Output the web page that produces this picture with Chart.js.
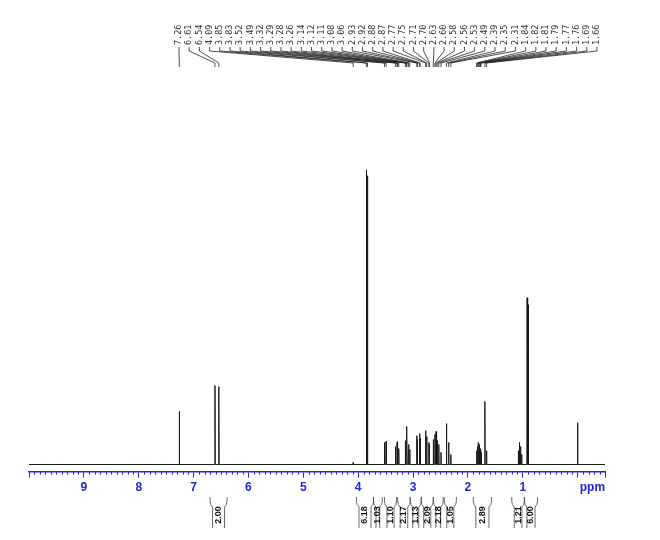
<!DOCTYPE html>
<html>
<head>
<meta charset="utf-8">
<script src="https://cdn.jsdelivr.net/npm/chart.js@4.4.1/dist/chart.umd.min.js"></script>
<style>
  html, body { margin: 0; padding: 0; background: #fff; }
</style>
</head>
<body>
<canvas id="nmr" width="660" height="540"></canvas>
<script>
// peak positions (ppm) and heights (relative, 3.85 singlet = 100)
const peakPpm = [7.26, 6.61, 6.54, 4.09, 3.85, 3.83, 3.52, 3.49, 3.32, 3.29, 3.28, 3.26,
  3.14, 3.12, 3.11, 3.08, 3.06, 2.93, 2.92, 2.88, 2.87, 2.77, 2.75, 2.71, 2.70,
  2.63, 2.60, 2.58, 2.56, 2.53, 2.49, 2.39, 2.35, 2.31,
  1.84, 1.82, 1.81, 1.79, 1.77, 1.76, 1.69, 1.66,
  1.08, 1.06, 1.04, 1.02, 0.92, 0.90, 0.00];
const peakHeight = [18.0, 26.8, 26.4, 0.7, 100, 98, 7.5, 7.8, 6.1, 7.5, 7.8, 5.4,
  8.1, 12.9, 10.2, 6.8, 5.1, 9.8, 8.5, 10.5, 8.8, 11.5, 9.5, 7.5, 6.8,
  8.5, 10.2, 11.2, 8.1, 6.8, 4.1, 13.9, 7.5, 3.4,
  4.7, 6.1, 7.5, 6.8, 5.4, 4.1, 21.4, 4.7,
  4.7, 7.5, 6.1, 3.4, 56.6, 54.2, 14.2];

// peak pick labels shown above the spectrum
const labelPpm = ['7.26', '6.61', '6.54', '4.09', '3.85', '3.83', '3.52', '3.49', '3.32', '3.29',
  '3.28', '3.26', '3.14', '3.12', '3.11', '3.08', '3.06', '2.93', '2.92', '2.88', '2.87',
  '2.77', '2.75', '2.71', '2.70', '2.63', '2.60', '2.58', '2.56', '2.53', '2.49', '2.39',
  '2.35', '2.31', '1.84', '1.82', '1.81', '1.79', '1.77', '1.76', '1.69', '1.66'];

// integral regions
const integralFrom = [6.70, 4.03, 3.72, 3.52, 3.28, 3.05, 2.85, 2.63, 2.43, 1.90, 1.20, 0.97];
const integralTo = [6.39, 3.72, 3.56, 3.30, 3.05, 2.85, 2.63, 2.45, 2.21, 1.57, 0.97, 0.73];
const integralValue = ['2.00', '6.18', '1.03', '1.10', '2.17', '1.13', '2.09', '2.18', '1.05', '2.89', '1.21', '6.00'];

const axisBlue = '#2323dc';

const spectrum = [{ x: 10, y: 0 }];
peakPpm
  .map((p, i) => ({ p, h: peakHeight[i] }))
  .sort((a, b) => b.p - a.p)
  .forEach(({ p, h }) => {
    spectrum.push({ x: p + 0.005, y: 0 }, { x: p, y: h }, { x: p - 0.005, y: 0 });
  });
spectrum.push({ x: -0.5, y: 0 });

const decorations = {
  id: 'decorations',
  afterDraw(chart) {
    const { ctx, chartArea } = chart;
    const xs = chart.scales.x;
    const bottom = chartArea.bottom;

    // minor ticks every 0.1 ppm
    ctx.save();
    ctx.strokeStyle = axisBlue;
    ctx.lineWidth = 1;
    ctx.beginPath();
    for (let i = -5; i <= 100; i += 1) {
      if (i % 10 === 0) continue;
      const x = Math.round(xs.getPixelForValue(i / 10)) + 0.5;
      const len = i === -5 ? 6 : 3;
      ctx.moveTo(x, bottom);
      ctx.lineTo(x, bottom + len);
    }
    ctx.stroke();

    ctx.fillStyle = axisBlue;
    ctx.font = 'bold 12px "Liberation Sans", Arial, sans-serif';
    ctx.textAlign = 'center';
    ctx.textBaseline = 'middle';
    ctx.fillText('ppm', xs.getPixelForValue(-0.27), bottom + 16);
    ctx.restore();

    // peak labels and leader lines
    ctx.save();
    const n = labelPpm.length;
    const first = 179;
    const last = 597;
    ctx.font = '8.5px "DejaVu Sans Mono", monospace';
    ctx.fillStyle = '#333';
    ctx.strokeStyle = '#222';
    ctx.lineWidth = 0.8;
    labelPpm.forEach((lab, i) => {
      const lx = first + (i * (last - first)) / (n - 1);
      const px = xs.getPixelForValue(parseFloat(lab));
      ctx.save();
      ctx.translate(lx, 45);
      ctx.rotate(-Math.PI / 2);
      ctx.textAlign = 'left';
      ctx.textBaseline = 'middle';
      ctx.fillText(lab, 0, 0);
      ctx.restore();
      ctx.beginPath();
      ctx.moveTo(lx, 47);
      ctx.lineTo(lx, 51);
      ctx.lineTo(px, 63);
      ctx.lineTo(px, 67);
      ctx.stroke();
    });
    ctx.restore();

    // integrals
    ctx.save();
    ctx.strokeStyle = '#444';
    ctx.lineWidth = 0.8;
    ctx.fillStyle = '#111';
    ctx.font = 'bold 9px "Liberation Sans", Arial, sans-serif';
    integralValue.forEach((val, i) => {
      const x1 = xs.getPixelForValue(integralFrom[i]);
      const x2 = xs.getPixelForValue(integralTo[i]);
      const top = 497;
      ctx.beginPath();
      ctx.moveTo(x1, top);
      ctx.lineTo(x1, top + 4);
      ctx.quadraticCurveTo(x1, top + 8, x1 + 2.5, top + 10);
      ctx.lineTo(x1 + 2.5, top + 31);
      ctx.moveTo(x2, top);
      ctx.lineTo(x2, top + 4);
      ctx.quadraticCurveTo(x2, top + 8, x2 - 2.5, top + 10);
      ctx.lineTo(x2 - 2.5, top + 31);
      ctx.stroke();
      ctx.save();
      ctx.translate((x1 + x2) / 2, top + 18);
      ctx.rotate(-Math.PI / 2);
      ctx.textAlign = 'center';
      ctx.textBaseline = 'middle';
      ctx.fillText(val, 0, 0);
      ctx.restore();
    });
    ctx.restore();
  },
};

new Chart(document.getElementById('nmr').getContext('2d'), {
  type: 'line',
  data: {
    datasets: [
      {
        data: spectrum,
        borderColor: '#1a1a1a',
        borderWidth: 1,
        pointRadius: 0,
        tension: 0,
        fill: false,
      },
    ],
  },
  options: {
    responsive: false,
    animation: false,
    devicePixelRatio: 1,
    layout: { padding: { left: 29, right: 55, top: 100, bottom: 42 } },
    plugins: { legend: { display: false }, tooltip: { enabled: false } },
    scales: {
      x: {
        type: 'linear',
        reverse: true,
        min: -0.5,
        max: 10,
        ticks: {
          stepSize: 1,
          includeBounds: false,
          color: axisBlue,
          padding: 3,
          maxRotation: 0,
          autoSkip: false,
          font: { family: '"Liberation Sans", Arial, sans-serif', size: 12, weight: 'bold' },
          callback: (v) => (v >= 1 && v <= 9 ? String(v) : ''),
        },
        grid: { drawOnChartArea: false, drawTicks: true, tickLength: 6, color: axisBlue, tickColor: axisBlue },
        border: { color: axisBlue, width: 1.5 },
      },
      y: {
        display: false,
        min: -2.4,
        max: 123.7,
      },
    },
  },
  plugins: [decorations],
});
</script>
</body>
</html>
